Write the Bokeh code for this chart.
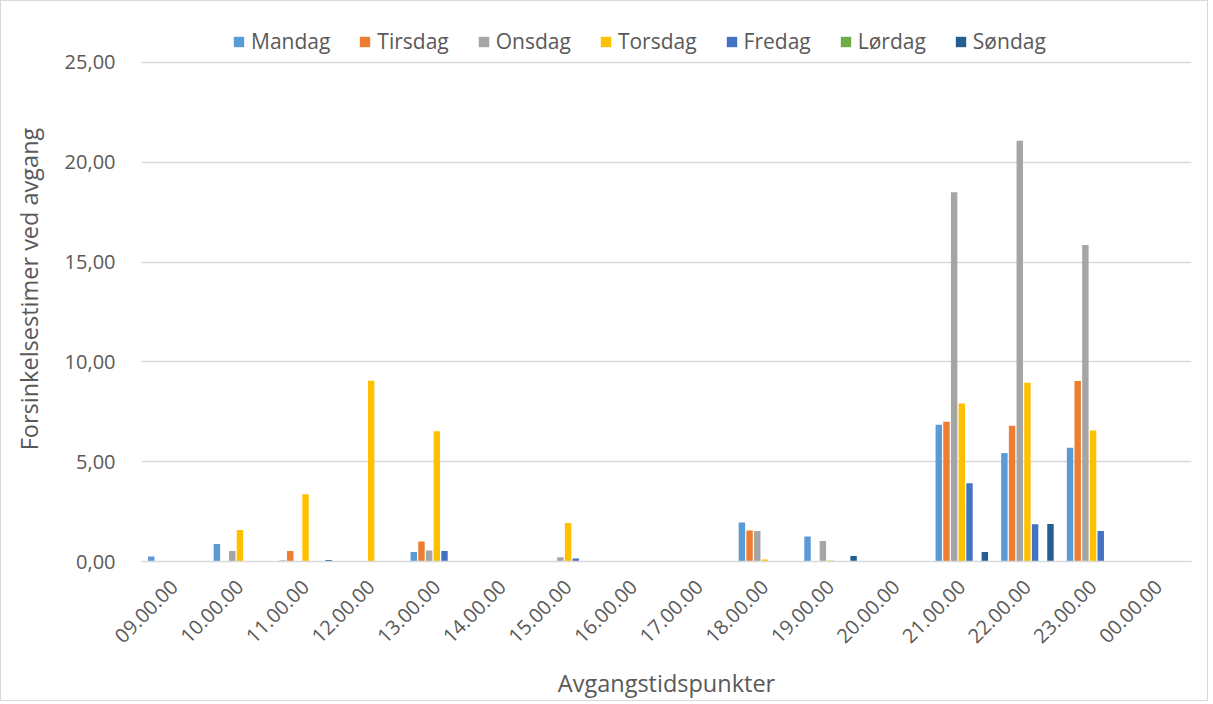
import math
from bokeh.plotting import figure
from bokeh.models import ColumnDataSource, FactorRange, Legend, LegendItem, CustomJSTickFormatter, Range1d
from bokeh.transform import dodge
from bokeh.embed import file_html
from bokeh.resources import INLINE

categories = ["09.00.00", "10.00.00", "11.00.00", "12.00.00", "13.00.00", "14.00.00",
              "15.00.00", "16.00.00", "17.00.00", "18.00.00", "19.00.00", "20.00.00",
              "21.00.00", "22.00.00", "23.00.00", "00.00.00"]

series_names = ["Mandag", "Tirsdag", "Onsdag", "Torsdag", "Fredag", "Lørdag", "Søndag"]

mandag  = [0.25, 0.88, 0.05, 0.00, 0.48, 0.00, 0.00, 0.00, 0.00, 1.95, 1.25, 0.00, 6.85, 5.43, 5.70, 0.00]
tirsdag = [0.00, 0.00, 0.53, 0.00, 1.00, 0.00, 0.00, 0.00, 0.00, 1.55, 0.00, 0.00, 7.00, 6.80, 9.04, 0.00]
onsdag  = [0.00, 0.53, 0.00, 0.00, 0.55, 0.00, 0.21, 0.00, 0.00, 1.53, 1.03, 0.00, 18.50, 21.08, 15.85, 0.00]
torsdag = [0.00, 1.58, 3.37, 9.06, 6.52, 0.00, 1.93, 0.00, 0.00, 0.10, 0.05, 0.00, 7.91, 8.96, 6.56, 0.00]
fredag  = [0.00, 0.00, 0.00, 0.00, 0.53, 0.00, 0.15, 0.00, 0.00, 0.00, 0.00, 0.00, 3.92, 1.86, 1.53, 0.00]
lordag  = [0.00, 0.00, 0.00, 0.00, 0.00, 0.00, 0.00, 0.00, 0.00, 0.00, 0.00, 0.00, 0.00, 0.00, 0.00, 0.00]
sondag  = [0.00, 0.00, 0.08, 0.00, 0.00, 0.00, 0.00, 0.00, 0.00, 0.00, 0.27, 0.00, 0.48, 1.88, 0.00, 0.00]

y_ticks = [0, 5, 10, 15, 20, 25]

colors = ["#5B9BD5", "#ED7D31", "#A5A5A5", "#FFC000", "#4472C4", "#70AD47", "#255E91"]
keys = ["mandag", "tirsdag", "onsdag", "torsdag", "fredag", "lordag", "sondag"]

source = ColumnDataSource(dict(cat=categories, mandag=mandag, tirsdag=tirsdag, onsdag=onsdag,
                               torsdag=torsdag, fredag=fredag, lordag=lordag, sondag=sondag))

FONT = "Open Sans"
TXT = "#595959"
GRID = "#D9D9D9"

# frame extends above 25 to host the legend; 25 units = ~501 px
p = figure(x_range=FactorRange(*categories, range_padding=0), y_range=Range1d(0, 27.3),
           width=1208, height=701, output_backend="svg", toolbar_location=None,
           min_border_left=140, min_border_right=18, min_border_top=15, min_border_bottom=139)
p.styles = {"border": "1px solid #D9D9D9"}

pitch = 0.117
items = []
for i, (k, name, c) in enumerate(zip(keys, series_names, colors)):
    r = p.vbar(x=dodge("cat", (i - 3) * pitch, range=p.x_range), top=k, width=0.098,
               source=source, fill_color=c, line_color=None)
    items.append(LegendItem(label=name, renderers=[r]))

legend = Legend(items=items, orientation="horizontal", location=(91, 506),
                label_text_font=FONT, label_text_font_size="21px", label_text_color=TXT,
                glyph_width=13, glyph_height=13, label_standoff=6, spacing=28,
                padding=0, margin=0, border_line_color=None, background_fill_alpha=0,
                label_height=26)
p.add_layout(legend, "center")

p.outline_line_color = None
p.xgrid.grid_line_color = None
p.ygrid.grid_line_color = GRID
p.ygrid.grid_line_width = 1.3
p.yaxis.ticker = y_ticks
p.yaxis.formatter = CustomJSTickFormatter(code="return tick.toFixed(2).replace('.', ',');")

for ax in (p.xaxis[0], p.yaxis[0]):
    ax.major_tick_line_color = None
    ax.minor_tick_line_color = None
    ax.major_label_text_font = FONT
    ax.major_label_text_color = TXT
    ax.major_label_text_font_size = "20px"
    ax.axis_label_text_font = FONT
    ax.axis_label_text_color = TXT
    ax.axis_label_text_font_size = "23.5px"
    ax.axis_label_text_font_style = "normal"

p.yaxis.axis_line_color = None
p.xaxis.axis_line_color = GRID
p.xaxis.axis_line_width = 1.5
p.xaxis.major_label_orientation = math.pi / 4
p.xaxis.major_label_standoff = 16
p.yaxis.major_label_standoff = 20
p.xaxis.axis_label = "Avgangstidspunkter"
p.yaxis.axis_label = "Forsinkelsestimer ved avgang"
p.xaxis.axis_label_standoff = 15
p.yaxis.axis_label_standoff = 17

open("out.html", "w").write(file_html(p, INLINE))
